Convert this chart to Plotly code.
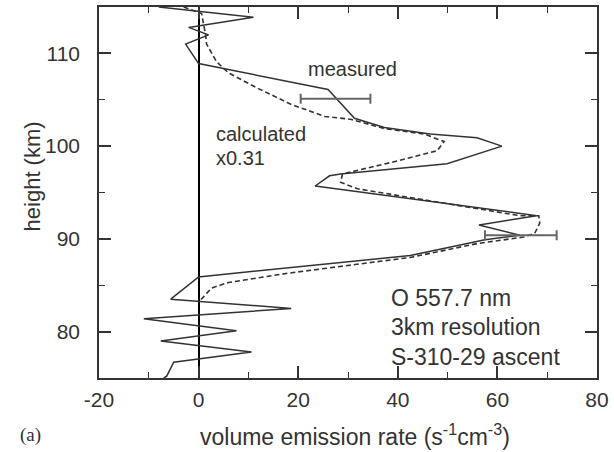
import plotly.graph_objects as go

# Measured profile (solid)
meas_x = [-8, 11, -2, 2, -2.6, 0, 26, 31.3, 37.3, 46.5, 55.9, 60.9, 49.9, 28.5, 26.3, 23.4,
          67.9, 56.3, 64.5, 57.5, 42.5, 0, -5.6, 18.6, -11, 7.6, -7.6, 10.6, -5, -6.4, -7]
meas_y = [115, 113.9, 112.8, 112.0, 111.0, 108.9, 106.1, 103.0, 102.0, 101.3, 100.9, 100.0, 98.1,
          97.0, 96.8, 95.7, 92.5, 91.5, 90.4, 89.9, 88.2, 85.9, 83.5, 82.5, 81.4, 80.1, 79.0,
          77.8, 76.7, 75.2, 75]

# Calculated profile x0.31 (dashed)
calc_x = [-3, 0.6, 1.4, 1.6, 3.6, 6, 12, 18.6, 25.3, 30.5, 37.3, 45.3, 49.3, 47.9, 39.9, 28.9,
          28.5, 31.9, 64.5, 68.3, 68.5, 67.5, 65.3, 56, 42.5, 18, 6, 2.6, 0.4]
calc_y = [115, 114.3, 112.0, 111.0, 109.1, 107.9, 106.2, 104.5, 103.2, 102.9, 101.9, 101.3,
          100.5, 99.5, 98.4, 97.0, 96.1, 95.4, 92.5, 92.5, 91.7, 90.6, 90.2, 89.5, 88.0, 86.3,
          85.3, 84.7, 83.4]

# Error bars on measured profile
err_x = [27.5, 64.7]
err_y = [105.1, 90.4]
err_half = [7.0, 7.2]

x_ticks = [-20, 0, 20, 40, 60, 80]
x_ticktext = ["-20", "0", "20", "40", "60", "80"]
y_ticks = [80, 90, 100, 110]
y_ticktext = ["80", "90", "100", "110"]

INK = "#333333"
FONT = "Liberation Sans, Arial, sans-serif"

fig = go.Figure()
fig.add_trace(go.Scatter(x=calc_x, y=calc_y, mode="lines",
                         line=dict(color=INK, width=1.6, dash="5px,3px"), showlegend=False))
fig.add_trace(go.Scatter(x=meas_x, y=meas_y, mode="lines",
                         line=dict(color=INK, width=1.5), showlegend=False))
fig.add_trace(go.Scatter(x=err_x, y=err_y, mode="markers",
                         marker=dict(size=0.1, color="rgba(0,0,0,0)"),
                         error_x=dict(type="data", array=err_half, visible=True,
                                      color="#666666", thickness=2, width=5),
                         showlegend=False))

axis_common = dict(showline=True, linecolor=INK, linewidth=1.5, mirror="ticks",
                   ticks="inside", ticklen=12, tickwidth=1.5, tickcolor=INK,
                   showgrid=False, tickfont=dict(family=FONT, size=21, color=INK))

fig.update_xaxes(range=[-20, 80], tickvals=x_ticks, ticktext=x_ticktext, zeroline=True,
                 zerolinecolor="black", zerolinewidth=1.5, ticklabelstandoff=2,
                 minor=dict(ticks="inside", ticklen=6, dtick=10, tick0=-20, tickcolor=INK,
                            tickwidth=1.2),
                 **axis_common)
fig.update_yaxes(range=[75, 115], tickvals=y_ticks, ticktext=y_ticktext, zeroline=False,
                 ticklabelstandoff=13,
                 minor=dict(ticks="inside", ticklen=6, dtick=5, tick0=75, tickcolor=INK,
                            tickwidth=1.2),
                 **axis_common)

txt = dict(family=FONT, size=20, color=INK)
big = dict(family=FONT, size=23, color=INK)
ann = []
ann.append(dict(x=21.6, y=108.3, xref="x", yref="y", text="measured", showarrow=False,
                xanchor="left", yanchor="middle", font=txt))
ann.append(dict(x=3.0, y=101.3, xref="x", yref="y", text="calculated", showarrow=False,
                xanchor="left", yanchor="middle", font=txt))
ann.append(dict(x=3.0, y=98.75, xref="x", yref="y", text="x0.31", showarrow=False,
                xanchor="left", yanchor="middle", font=txt))
for t, yy in [("O 557.7 nm", 83.6), ("3km resolution", 80.5), ("S-310-29 ascent", 77.3)]:
    ann.append(dict(x=38.3, y=yy, xref="x", yref="y", text=t, showarrow=False,
                    xanchor="left", yanchor="middle", font=big))
ann.append(dict(x=0.515, y=-0.153, xref="paper", yref="paper",
                text="volume emission rate (s<sup>-1</sup>cm<sup>-3</sup>)", showarrow=False,
                xanchor="center", yanchor="middle", font=big))
ann.append(dict(x=-0.134, y=0.544, xref="paper", yref="paper", text="height (km)",
                textangle=-90, showarrow=False, xanchor="center", yanchor="middle",
                font=dict(family=FONT, size=22, color=INK)))
ann.append(dict(x=-0.138, y=-0.153, xref="paper", yref="paper", text="(a)", showarrow=False,
                xanchor="center", yanchor="middle",
                font=dict(family="Liberation Serif, Times New Roman, serif", size=19, color=INK)))

fig.update_layout(width=614, height=452, margin=dict(l=99, r=14, t=5, b=74),
                  paper_bgcolor="white", plot_bgcolor="white", annotations=ann)

fig.write_html("out.html")
